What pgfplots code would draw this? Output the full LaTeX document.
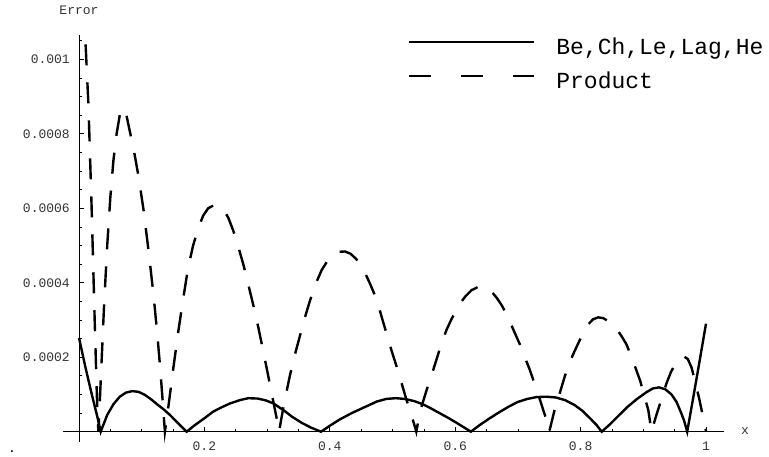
\documentclass[border=0pt]{standalone}
\usepackage{fontspec}
\setmainfont{Liberation Mono}
\usepackage{pgfplots}
\pgfplotsset{compat=1.18}
\newcommand\tickfont{\fontsize{13}{15}\selectfont}
\newcommand\legfont{\fontsize{23}{26}\selectfont}
\begin{document}
\begin{tikzpicture}
\begin{axis}[
  x=627pt, y=37.24pt,
  xmin=-0.0255, xmax=1.029, ymin=-0.27, ymax=10.65,
  axis lines=middle,
  axis line style={line width=0.8pt, -},
  clip=false,
  xtick={0,0.2,0.4,0.6,0.8,1},
  xticklabels={,0.2,0.4,0.6,0.8,1},
  minor xtick={0.05,0.1,...,1.0},
  ytick={0,2,4,6,8,10},
  yticklabels={,0.0002,0.0004,0.0006,0.0008,0.001},
  minor ytick={0.5,1,...,10.5},
  tick align=inside,
  major tick length=5pt, minor tick length=3pt,
  tick style={line width=0.7pt, black},
  xticklabel style={font=\tickfont, text=black!80, anchor=center, yshift=-15pt, inner sep=0pt},
  yticklabel style={font=\tickfont, text=black!80, anchor=east, xshift=-9pt, inner sep=0pt},
  legend style={draw=none, fill=none, at={(axis cs:0.5247,10.57)}, anchor=north west,
    inner sep=0pt, outer sep=0pt, row sep=13pt, column sep=21pt, font=\legfont,
    nodes={inner sep=0pt, text height=16pt, text depth=5pt}},
  legend cell align=left,
  legend image code/.code={\draw[#1] (0pt,6.5pt) -- (125pt,6.5pt);},
]
\coordinate (O) at (axis cs:0,0);
\addlegendimage{black, line width=2.4pt}
\addlegendentry{Be,Ch,Le,Lag,He}
\addlegendimage{black, line width=2.4pt, dash pattern=on 22pt off 30pt}
\addlegendentry{Product}

% Be,Ch,Le,Lag,He (units of 1e-4)
\addplot[black, line width=2.4pt, forget plot] coordinates {
(0,2.52) (0.01,1.75) (0.02,1.03) (0.03,0.35) (0.0346,0)
(0.045,0.45) (0.055,0.74) (0.065,0.94) (0.075,1.05) (0.085,1.09) (0.095,1.07) (0.105,0.99) (0.115,0.87) (0.125,0.73) (0.135,0.6) (0.145,0.45) (0.155,0.28) (0.165,0.11) (0.1717,0)
(0.185,0.18) (0.2,0.36) (0.214,0.54) (0.228,0.66) (0.241,0.76) (0.257,0.85) (0.27,0.9) (0.285,0.89) (0.298,0.84) (0.31,0.76) (0.326,0.58) (0.34,0.4) (0.355,0.24) (0.37,0.11) (0.386,0)
(0.4,0.16) (0.416,0.33) (0.435,0.5) (0.453,0.64) (0.475,0.81) (0.49,0.88) (0.505,0.9) (0.52,0.88) (0.535,0.82) (0.548,0.74) (0.562,0.62) (0.576,0.49) (0.59,0.36) (0.605,0.21) (0.625,0)
(0.64,0.19) (0.655,0.36) (0.67,0.52) (0.685,0.67) (0.7,0.8) (0.715,0.88) (0.73,0.93) (0.745,0.94) (0.76,0.92) (0.775,0.85) (0.79,0.72) (0.803,0.56) (0.815,0.36) (0.825,0.19) (0.8336,0)
(0.845,0.17) (0.86,0.42) (0.875,0.67) (0.89,0.88) (0.905,1.06) (0.915,1.16) (0.925,1.19) (0.935,1.14) (0.945,1.0) (0.953,0.8) (0.96,0.52) (0.965,0.3) (0.97,0)
(0.98,0.95) (0.99,1.92) (1.0,2.9)
};

% Product (units of 1e-4)
\addplot[black, line width=2.4pt, dash pattern=on 21pt off 17pt, forget plot] coordinates {
(0.0105,10.4) (0.015,8.8) (0.02,6.1) (0.025,3.0) (0.0295,0.4) (0.031,0)
(0.035,1.5) (0.04,3.4) (0.045,5.0) (0.05,6.3) (0.055,7.3) (0.06,8.0) (0.065,8.5) (0.07,8.7) (0.075,8.55) (0.08,8.15) (0.087,7.6) (0.095,6.85) (0.103,5.95) (0.111,4.85) (0.119,3.65) (0.125,2.6) (0.13,1.6) (0.134,0.7) (0.137,0)
(0.142,0.6) (0.15,1.65) (0.158,2.65) (0.166,3.55) (0.174,4.4) (0.182,5.0) (0.19,5.45) (0.198,5.8) (0.206,6.0) (0.214,6.07) (0.222,6.07) (0.23,5.97) (0.238,5.75) (0.246,5.4) (0.254,4.97) (0.262,4.5) (0.27,3.95) (0.278,3.4) (0.286,2.8) (0.294,2.15) (0.302,1.48) (0.31,0.8) (0.316,0.3) (0.319,0)
(0.327,0.75) (0.336,1.48) (0.344,2.05) (0.352,2.55) (0.36,3.05) (0.368,3.5) (0.377,3.95) (0.387,4.34) (0.396,4.58) (0.406,4.75) (0.415,4.83) (0.424,4.84) (0.433,4.78) (0.442,4.64) (0.451,4.43) (0.458,4.2) (0.464,3.98) (0.471,3.7) (0.477,3.42) (0.485,2.95) (0.492,2.55) (0.499,2.15) (0.506,1.78) (0.512,1.45) (0.518,1.1) (0.523,0.82) (0.53,0.45) (0.536,0.12) (0.538,0)
(0.544,0.55) (0.555,1.15) (0.565,1.66) (0.575,2.2) (0.586,2.73) (0.594,3.02) (0.602,3.27) (0.609,3.47) (0.616,3.63) (0.626,3.8) (0.637,3.89) (0.647,3.87) (0.658,3.76) (0.666,3.6) (0.674,3.4) (0.684,3.08) (0.693,2.73) (0.703,2.35) (0.711,2.0) (0.719,1.66) (0.727,1.27) (0.735,0.87) (0.741,0.55) (0.746,0.3) (0.75,0)
(0.758,0.55) (0.767,1.05) (0.775,1.5) (0.783,1.88) (0.79,2.15) (0.797,2.4) (0.804,2.65) (0.812,2.88) (0.82,3.02) (0.828,3.07) (0.836,3.05) (0.844,2.97) (0.852,2.85) (0.86,2.7) (0.867,2.52) (0.873,2.35) (0.879,2.1) (0.884,1.88) (0.89,1.6) (0.895,1.37) (0.901,1.0) (0.908,0.58) (0.913,0)
(0.92,0.4) (0.929,0.88) (0.937,1.3) (0.944,1.6) (0.951,1.82) (0.958,1.96) (0.965,2.02) (0.971,1.95) (0.977,1.72) (0.983,1.32) (0.989,0.9) (0.994,0.5) (1.0,0.02)
};

\node[font=\tickfont, text=black!80, anchor=center] at (axis cs:0,11.324) {Error};
\node[font=\tickfont, text=black!80, anchor=center] at (axis cs:1.0622,0.01) {x};
\end{axis}
\node[font=\tickfont, anchor=base] at ([shift={(-67pt,-20.5pt)}]O) {.};
\pgfresetboundingbox
\useasboundingbox ([shift={(-79pt,-24.3pt)}]O) rectangle ([shift={(690pt,431.7pt)}]O);
\end{tikzpicture}
\end{document}
